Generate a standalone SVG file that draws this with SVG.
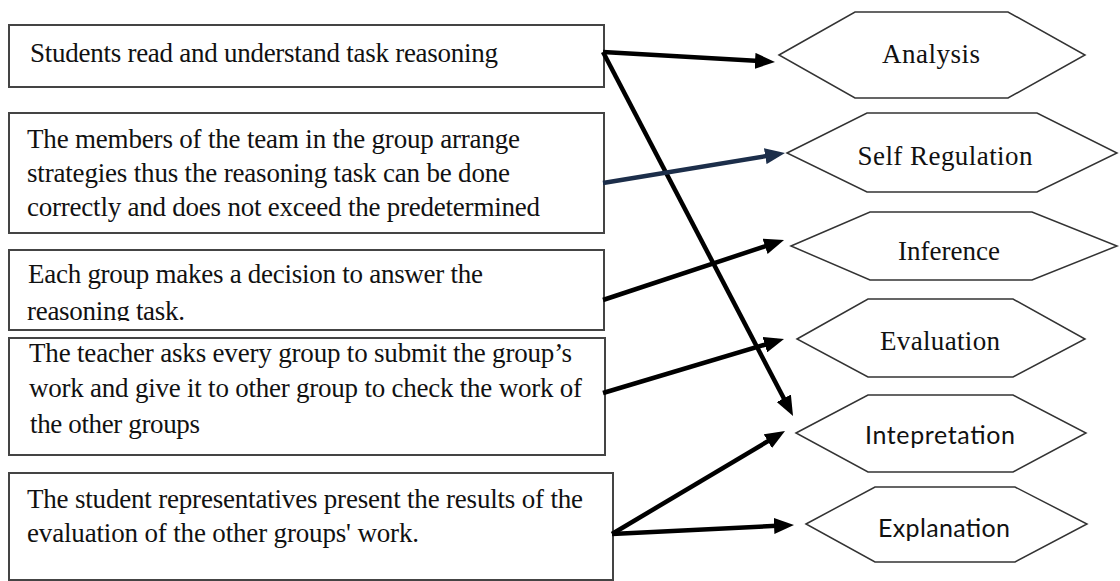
<svg xmlns="http://www.w3.org/2000/svg" width="1120" height="581" viewBox="0 0 1120 581">
<style>
.box{fill:#fff;stroke:#444;stroke-width:2}
.hex{fill:#fff;stroke:#333;stroke-width:1.5}
.t{font-family:"Liberation Serif","Times New Roman",serif;font-size:27px;fill:#111}
.hs{font-family:"Liberation Serif","Times New Roman",serif;font-size:27px;fill:#111;text-anchor:middle}
.hc{font-family:Lato,"Open Sans",sans-serif;font-size:25px;fill:#111;text-anchor:middle}
.arr{fill:none;stroke:#000;stroke-width:4.5}
</style>
<defs>
<marker id="ah" markerUnits="userSpaceOnUse" markerWidth="20" markerHeight="16" refX="13" refY="8" orient="auto"><path d="M0,0 L20,8 L0,16 z" fill="#000"/></marker>
<marker id="ahb" markerUnits="userSpaceOnUse" markerWidth="20" markerHeight="16" refX="13" refY="8" orient="auto"><path d="M0,0 L20,8 L0,16 z" fill="#1c2e4a"/></marker>
<clipPath id="c3"><rect x="10" y="251" width="592" height="70"/></clipPath>
</defs>
<rect width="1120" height="581" fill="#fff"/>

<g id="box1"><rect class="box" x="9" y="25" width="595" height="62"/>
<text class="t" x="30" y="62" textLength="468">Students read and understand task reasoning</text></g>

<g id="box2"><rect class="box" x="9" y="113" width="595" height="120"/>
<text class="t" x="27" y="148" textLength="493">The members of the team in the group arrange</text>
<text class="t" x="27" y="182" textLength="483">strategies thus the reasoning task can be done</text>
<text class="t" x="27" y="216" textLength="513">correctly and does not exceed the predetermined</text></g>

<g id="box3"><rect class="box" x="9" y="250" width="595" height="80"/>
<g clip-path="url(#c3)">
<text class="t" x="28" y="283" textLength="455">Each group makes a decision to answer the</text>
<text class="t" x="27" y="320" textLength="158">reasoning task.</text></g></g>

<g id="box4"><rect class="box" x="9" y="338" width="596" height="117"/>
<text class="t" x="29" y="362" textLength="543">The teacher asks every group to submit the group’s</text>
<text class="t" x="29" y="397" textLength="553">work and give it to other group to check the work of</text>
<text class="t" x="30" y="433" textLength="170">the other groups</text></g>

<g id="box5"><rect class="box" x="9" y="473" width="604" height="107"/>
<text class="t" x="27" y="508" textLength="556">The student representatives present the results of the</text>
<text class="t" x="27" y="542" textLength="392">evaluation of the other groups' work.</text></g>

<g id="hex1"><polygon class="hex" points="779,55 855,12 1008,12 1085,55 1008,98 855,98"/>
<text class="hs" x="931" y="63" textLength="98">Analysis</text></g>

<g id="hex2"><polygon class="hex" points="787,153 867,113 1037,113 1117,153 1037,192 867,192"/>
<text class="hs" x="945" y="165" textLength="175">Self Regulation</text></g>

<g id="hex3"><polygon class="hex" points="791,246 870,212 1032,212 1117,246 1032,280 870,280"/>
<text class="hs" x="949" y="260" textLength="102">Inference</text></g>

<g id="hex4"><polygon class="hex" points="797,339 868,299 1013,299 1085,339 1013,377 868,377"/>
<text class="hs" x="940" y="350" textLength="120">Evaluation</text></g>

<g id="hex5"><polygon class="hex" points="796,433 868,395 1013,395 1086,433 1013,472 868,472"/>
<text class="hc" x="940" y="444" textLength="150">Intepretation</text></g>

<g id="hex6"><polygon class="hex" points="806,524 875,487 1015,487 1087,524 1015,562 875,562"/>
<text class="hc" x="944" y="537" textLength="132">Explanation</text></g>

<g id="connectors">
<line class="arr" x1="603" y1="52" x2="768" y2="61.6" marker-end="url(#ah)"/>
<line class="arr" x1="603" y1="52" x2="789.8" y2="409.8" marker-end="url(#ah)"/>
<line class="arr" x1="603" y1="183" x2="778.1" y2="154.1" style="stroke:#1c2e4a" marker-end="url(#ahb)"/>
<line class="arr" x1="603" y1="300" x2="777.4" y2="242.2" marker-end="url(#ah)"/>
<line class="arr" x1="603" y1="393" x2="777.3" y2="341" marker-end="url(#ah)"/>
<line class="arr" x1="612" y1="534" x2="779" y2="434.6" marker-end="url(#ah)"/>
<line class="arr" x1="612" y1="534" x2="787" y2="525.3" marker-end="url(#ah)"/>
</g>
</svg>
